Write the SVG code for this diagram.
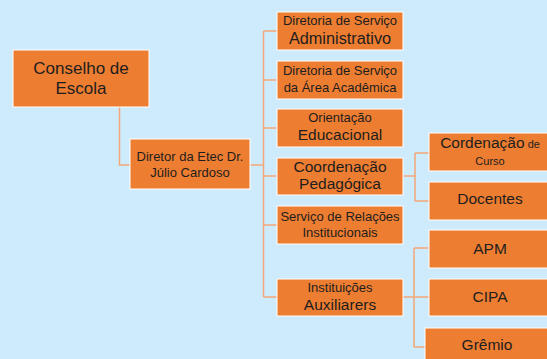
<svg xmlns="http://www.w3.org/2000/svg" width="547" height="359" viewBox="0 0 547 359">
<style>
.bg{fill:#CDEBFD}
.box{fill:#ED7D31;stroke:#FFFFFF;stroke-width:1}
.t{font-family:"Liberation Sans",Arial,sans-serif;fill:#1E1E1E;text-anchor:middle}
.s13{font-size:13px}
.s15{font-size:15.5px}
.s17{font-size:17px}
.s11{font-size:11px}
.c{fill:none;stroke:#F2A878;stroke-width:1.5}
</style>
<rect class="bg" x="0" y="0" width="547" height="359"/>
<g id="connectors">
<path class="c" d="M119.5 107 V165 H130"/>
<path class="c" d="M250 165 H263.5"/>
<path class="c" d="M263.5 31 V297"/>
<path class="c" d="M263.5 31 H277 M263.5 80 H277 M263.5 128 H277 M263.5 176 H277 M263.5 225 H277 M263.5 297 H277"/>
<path class="c" d="M403 176 H415 M415 153 V201 M415 153 H429 M415 201 H429"/>
<path class="c" d="M403 297 H414 M414 248 V347 M414 248 H429 M414 297 H429 M414 347 H425"/>
</g>
<g id="conselho">
<rect class="box" x="13" y="50" width="136" height="57"/>
<text class="t s17" x="81" y="74">Conselho de</text>
<text class="t s17" x="81" y="94">Escola</text>
</g>
<g id="diretor">
<rect class="box" x="130" y="139" width="120" height="50"/>
<text class="t s13" x="190" y="160.5">Diretor da Etec Dr.</text>
<text class="t s13" x="190" y="176.5">Júlio Cardoso</text>
</g>
<g id="dir-adm">
<rect class="box" x="277" y="12" width="126" height="38"/>
<text class="t s13" x="340" y="25">Diretoria de Serviço</text>
<text class="t" style="font-size:16.3px" x="340" y="43.5">Administrativo</text>
</g>
<g id="dir-acad">
<rect class="box" x="277" y="61" width="126" height="38"/>
<text class="t s13" x="340" y="75">Diretoria de Serviço</text>
<text class="t s13" x="340" y="91.5">da Área Acadêmica</text>
</g>
<g id="orientacao">
<rect class="box" x="277" y="109" width="126" height="38"/>
<text class="t s13" x="340" y="122.3">Orientação</text>
<text class="t s15" x="340" y="140">Educacional</text>
</g>
<g id="coord-ped">
<rect class="box" x="277" y="158" width="126" height="37"/>
<text class="t s15" x="340" y="172">Coordenação</text>
<text class="t s15" x="340" y="189">Pedagógica</text>
</g>
<g id="relacoes">
<rect class="box" x="277" y="206" width="126" height="38"/>
<text class="t s13" x="340" y="220.5">Serviço de Relações</text>
<text class="t s13" x="340" y="236.5">Institucionais</text>
</g>
<g id="instituicoes">
<rect class="box" x="277" y="279" width="126" height="37"/>
<text class="t s13" x="340" y="291.5">Instituições</text>
<text class="t s15" x="340" y="310">Auxiliarers</text>
</g>
<g id="cord-curso">
<rect class="box" x="429" y="133" width="124" height="38"/>
<text class="t" x="490" y="148.3"><tspan class="s15">Cordenação</tspan><tspan class="s11"> de</tspan></text>
<text class="t s11" x="490" y="165.3">Curso</text>
</g>
<g id="docentes">
<rect class="box" x="429" y="182" width="124" height="38"/>
<text class="t s15" x="490" y="204.3">Docentes</text>
</g>
<g id="apm">
<rect class="box" x="429" y="230" width="124" height="38"/>
<text class="t s15" x="490" y="253.7">APM</text>
</g>
<g id="cipa">
<rect class="box" x="429" y="279" width="124" height="37"/>
<text class="t s15" x="490" y="302.3">CIPA</text>
</g>
<g id="gremio">
<rect class="box" x="425" y="328" width="128" height="40"/>
<text class="t s15" x="487" y="350">Grêmio</text>
</g>
</svg>
